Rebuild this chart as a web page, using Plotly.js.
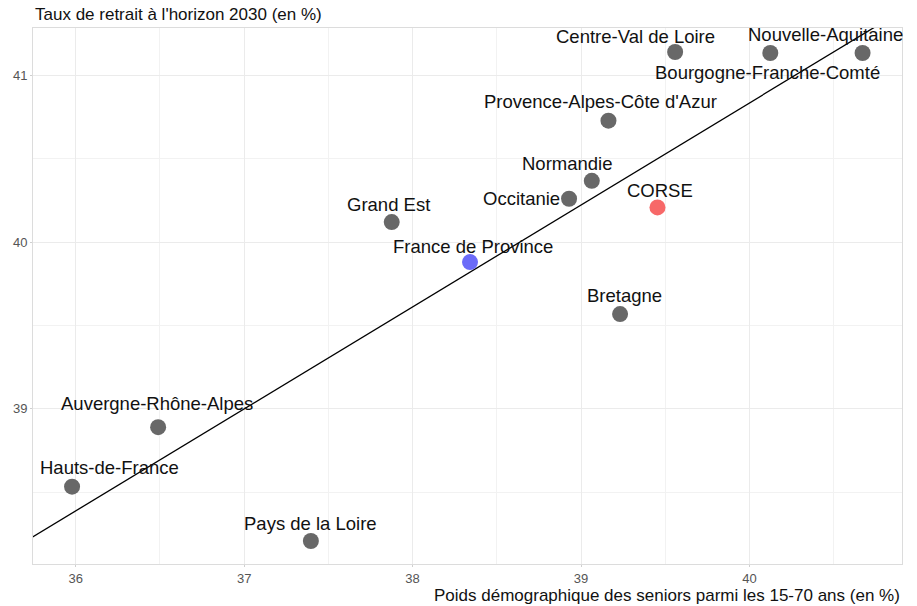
<!DOCTYPE html>
<html>
<head>
<meta charset="utf-8">
<script src="https://cdn.plot.ly/plotly-3.0.1.min.js"></script>
<style>html,body{margin:0;padding:0;background:#fff;}#chart{width:917px;height:606px;}</style>
</head>
<body>
<div id="chart"></div>
<script>
// ---- data ----
const regions = ["Hauts-de-France","Auvergne-Rhône-Alpes","Pays de la Loire","Grand Est","France de Province","Occitanie","Normandie","Provence-Alpes-Côte d'Azur","Bretagne","CORSE","Centre-Val de Loire","Bourgogne-Franche-Comté","Nouvelle-Aquitaine"];
const seniorShare = [35.978, 36.489, 37.396, 37.876, 38.341, 38.929, 39.064, 39.163, 39.232, 39.454, 39.559, 40.124, 40.672];
const retireRate  = [38.533, 38.890, 38.207, 40.121, 39.881, 40.261, 40.369, 40.730, 39.569, 40.209, 41.142, 41.136, 41.136];
const trendX = [35.5, 41.0];
const trendY = [38.082, 41.448];
const xTitle = "Poids démographique des seniors parmi les 15-70 ans (en %)";
const yTitle = "Taux de retrait à l'horizon 2030 (en %)";

// ---- styles ----
const labelOffsets = {
  "Hauts-de-France": [37, 19],
  "Auvergne-Rhône-Alpes": [-1, 24],
  "Pays de la Loire": [0, 18],
  "Grand Est": [-3, 18],
  "France de Province": [3, 16],
  "Occitanie": [-48, 0],
  "Normandie": [-24, 17],
  "Provence-Alpes-Côte d'Azur": [-8, 19],
  "Bretagne": [4, 19],
  "CORSE": [3, 17],
  "Centre-Val de Loire": [-40, 15],
  "Bourgogne-Franche-Comté": [-3, -20],
  "Nouvelle-Aquitaine": [-37, 18]
};
function colorFor(name){
  if (name === "CORSE") return "#f76868";
  if (name === "France de Province") return "#6b6bf8";
  return "#686868";
}

const font = "Liberation Sans, Arial, Helvetica, sans-serif";

const traces = [
  {x: trendX, y: trendY, mode: "lines", type: "scatter", line: {color: "#000", width: 1.3}, hoverinfo: "skip", showlegend: false, cliponaxis: true},
  {x: seniorShare, y: retireRate, text: regions, mode: "markers", type: "scatter",
   marker: {size: 16, color: regions.map(colorFor), line: {width: 0}}, showlegend: false}
];

const annotations = regions.map((r, i) => ({
  x: seniorShare[i], y: retireRate[i], xref: "x", yref: "y",
  text: r, showarrow: false, xanchor: "center", yanchor: "middle",
  xshift: labelOffsets[r][0], yshift: labelOffsets[r][1],
  font: {family: font, size: 18.5, color: "#111"}
}));
annotations.push({xref: "paper", yref: "paper", x: 0, y: 1.0, xanchor: "left", yanchor: "bottom", yshift: 2,
  text: yTitle, showarrow: false, font: {family: font, size: 17, color: "#111"}});
annotations.push({xref: "paper", yref: "paper", x: 1.0, y: 0, xanchor: "right", yanchor: "top", yshift: -20,
  text: xTitle, showarrow: false, font: {family: font, size: 17, color: "#111"}});

const axisCommon = {
  showgrid: true, gridcolor: "#ebebeb", gridwidth: 1,
  zeroline: false, showline: true, mirror: true, linecolor: "#dcdcdc", linewidth: 1,
  ticks: "outside", ticklen: 2, tickcolor: "#cfcfcf",
  tickfont: {family: font, size: 13, color: "#555"},
  minor: {showgrid: true, gridcolor: "#f2f2f2", dtick: 0.5, ticks: ""}
};

const layout = {
  width: 917, height: 606,
  margin: {l: 33, r: 15, t: 28, b: 42},
  paper_bgcolor: "#fff", plot_bgcolor: "#fff",
  xaxis: Object.assign({}, axisCommon, {range: [35.746, 40.906], tickvals: [36,37,38,39,40], dtick: 1}),
  yaxis: Object.assign({}, axisCommon, {range: [38.069, 41.286], tickvals: [39,40,41], dtick: 1}),
  annotations: annotations,
  font: {family: font},
  showlegend: false
};

Plotly.newPlot("chart", traces, layout, {displayModeBar: false, staticPlot: true});
</script>
</body>
</html>
